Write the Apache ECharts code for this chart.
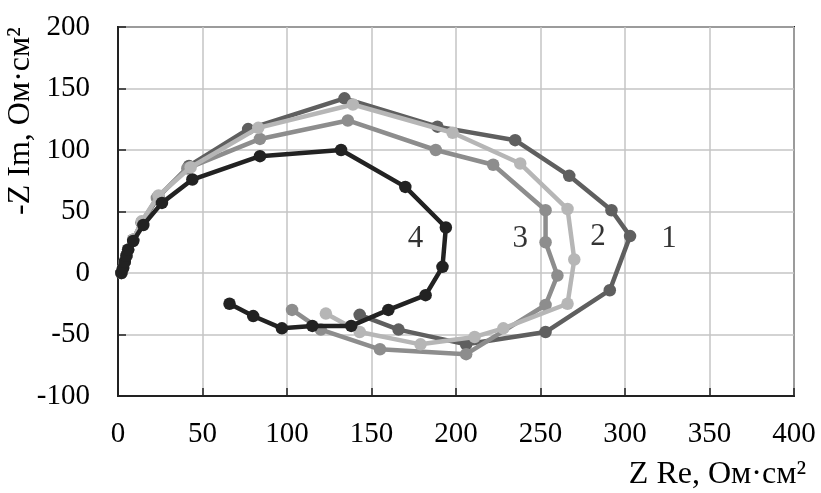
<!DOCTYPE html>
<html>
<head>
<meta charset="utf-8">
<script src="https://cdn.jsdelivr.net/npm/echarts@6/dist/echarts.min.js"></script>
<style>
  html, body { margin: 0; padding: 0; background: #fff; }
  #chart { width: 821px; height: 493px; }
</style>
</head>
<body>
<div id="chart"></div>
<script>
// Impedance spectra (Nyquist plot), four curves
const re1 = [2, 3, 4, 5, 6, 9, 14, 24, 42, 77, 134, 189, 235, 267, 292, 303, 291, 253, 206, 166, 143];
const im1 = [0, 4, 9, 14, 19, 27, 41, 62, 87, 117, 142, 119, 108, 79, 51, 30, -14, -48, -58, -46, -34];

const re2 = [2, 3, 4, 5, 6, 9, 14, 24, 43, 83, 139, 198, 238, 266, 270, 266, 228, 211, 179, 143, 123];
const im2 = [0, 4, 9, 14, 19, 27, 42, 63, 86, 118, 137, 114, 89, 52, 11, -25, -45, -52, -58, -48, -33];

const re3 = [2, 3, 4, 5, 6, 9, 14, 23, 41, 84, 136, 188, 222, 253, 253, 260, 253, 206, 155, 120, 103];
const im3 = [0, 4, 9, 14, 19, 27, 41, 61, 85, 109, 124, 100, 88, 51, 25, -2, -26, -66, -62, -46, -30];

const re4 = [2, 3, 4, 5, 6, 9, 15, 26, 44, 84, 132, 170, 194, 192, 182, 160, 138, 115, 97, 80, 66];
const im4 = [0, 4, 9, 14, 19, 26, 39, 57, 76, 95, 100, 70, 37, 5, -18, -30, -43, -43, -45, -35, -25];

const curveNames = ['1', '2', '3', '4'];
// where each curve number is written, in axis units
const nameAnchorsRe = [326, 284, 238, 176];
const nameAnchorsIm = [28, 29, 28, 28];

const xTicks = { min: 0, max: 400, step: 50 };
const yTicks = { min: -100, max: 200, step: 50 };

const FONT = '"Liberation Serif", "DejaVu Serif", serif';
const colors = { '1': '#5f5f5f', '2': '#b6b6b6', '3': '#8d8d8d', '4': '#222222' };

function pairs(xs, ys) { return xs.map((x, i) => [x, ys[i]]); }

function curve(name, xs, ys, z) {
  return {
    type: 'line',
    name: name,
    data: pairs(xs, ys),
    z: z,
    symbol: 'circle',
    symbolSize: 12.5,
    showSymbol: true,
    lineStyle: { color: colors[name], width: 4.5 },
    itemStyle: { color: colors[name] },
    animation: false
  };
}

const chart = echarts.init(document.getElementById('chart'));
chart.setOption({
  backgroundColor: '#ffffff',
  animation: false,
  grid: {
    left: 118, top: 27, right: 27, bottom: 97,
    show: true, borderColor: '#222', borderWidth: 2, backgroundColor: 'transparent'
  },
  xAxis: {
    type: 'value',
    min: xTicks.min, max: xTicks.max, interval: xTicks.step,
    axisLine: { show: true, onZero: false, lineStyle: { color: '#222', width: 2 } },
    axisTick: { show: true, inside: true, length: 8, lineStyle: { color: '#222', width: 1.5 } },
    splitLine: { show: true, lineStyle: { color: '#c4c4c4', width: 1.5 } },
    axisLabel: { color: '#000', fontFamily: FONT, fontSize: 29, margin: 24 }
  },
  yAxis: {
    type: 'value',
    min: yTicks.min, max: yTicks.max, interval: yTicks.step,
    axisLine: { show: true, onZero: false, lineStyle: { color: '#222', width: 2 } },
    axisTick: { show: true, inside: true, length: 8, lineStyle: { color: '#222', width: 1.5 } },
    splitLine: { show: true, lineStyle: { color: '#c4c4c4', width: 1.5 } },
    axisLabel: { color: '#000', fontFamily: FONT, fontSize: 29, margin: 28 }
  },
  series: [
    curve('1', re1, im1, 2),
    curve('3', re3, im3, 3),
    curve('2', re2, im2, 4),
    curve('4', re4, im4, 5),
    {
      type: 'scatter',
      name: 'curve numbers',
      symbolSize: 0,
      silent: true,
      z: 6,
      data: curveNames.map((n, i) => ({ name: n, value: [nameAnchorsRe[i], nameAnchorsIm[i]] })),
      label: {
        show: true, position: 'inside', formatter: p => p.name,
        color: '#000', fontFamily: FONT, fontSize: 31
      },
      animation: false
    }
  ],
  graphic: [
    {
      type: 'text',
      right: 15, bottom: 2,
      style: { text: 'Z Re, Ом·см²', font: '32px ' + FONT, fill: '#000' }
    },
    {
      type: 'text',
      x: 21, y: 121,
      rotation: Math.PI / 2,
      style: {
        text: '-Z Im, Ом·см²', font: '32px ' + FONT, fill: '#000',
        align: 'center', verticalAlign: 'middle'
      }
    }
  ]
});
</script>
</body>
</html>
